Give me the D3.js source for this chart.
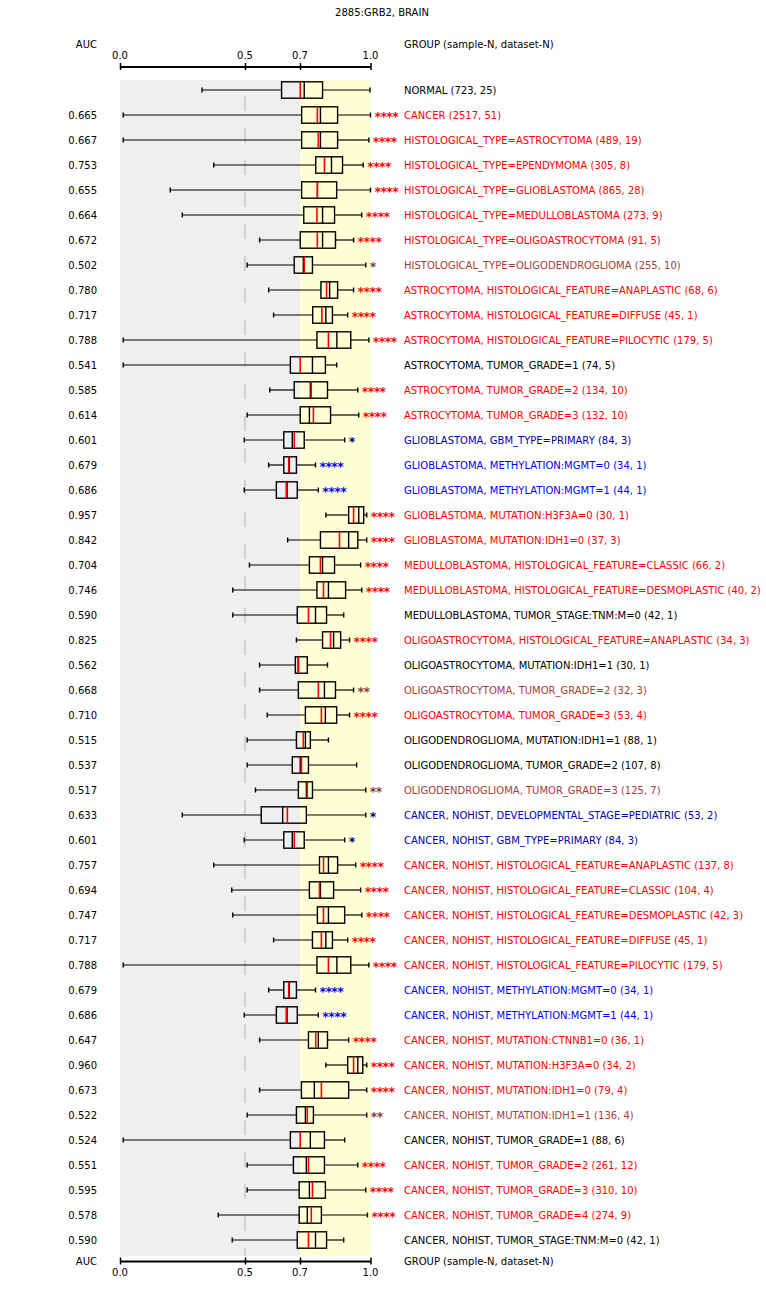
<!DOCTYPE html>
<html><head><meta charset="utf-8">
<script src="https://cdn.jsdelivr.net/npm/d3@7"></script>
<style>body{margin:0;background:#fff}svg text{font-family:"DejaVu Sans",sans-serif;font-size:10px}</style>
</head><body><div id="chart"></div>
<script>
const title = "2885:GRB2, BRAIN";
const groups = [
"NORMAL (723, 25)","CANCER (2517, 51)","HISTOLOGICAL_TYPE=ASTROCYTOMA (489, 19)","HISTOLOGICAL_TYPE=EPENDYMOMA (305, 8)",
"HISTOLOGICAL_TYPE=GLIOBLASTOMA (865, 28)","HISTOLOGICAL_TYPE=MEDULLOBLASTOMA (273, 9)","HISTOLOGICAL_TYPE=OLIGOASTROCYTOMA (91, 5)",
"HISTOLOGICAL_TYPE=OLIGODENDROGLIOMA (255, 10)","ASTROCYTOMA, HISTOLOGICAL_FEATURE=ANAPLASTIC (68, 6)","ASTROCYTOMA, HISTOLOGICAL_FEATURE=DIFFUSE (45, 1)",
"ASTROCYTOMA, HISTOLOGICAL_FEATURE=PILOCYTIC (179, 5)","ASTROCYTOMA, TUMOR_GRADE=1 (74, 5)","ASTROCYTOMA, TUMOR_GRADE=2 (134, 10)",
"ASTROCYTOMA, TUMOR_GRADE=3 (132, 10)","GLIOBLASTOMA, GBM_TYPE=PRIMARY (84, 3)","GLIOBLASTOMA, METHYLATION:MGMT=0 (34, 1)",
"GLIOBLASTOMA, METHYLATION:MGMT=1 (44, 1)","GLIOBLASTOMA, MUTATION:H3F3A=0 (30, 1)","GLIOBLASTOMA, MUTATION:IDH1=0 (37, 3)",
"MEDULLOBLASTOMA, HISTOLOGICAL_FEATURE=CLASSIC (66, 2)","MEDULLOBLASTOMA, HISTOLOGICAL_FEATURE=DESMOPLASTIC (40, 2)",
"MEDULLOBLASTOMA, TUMOR_STAGE:TNM:M=0 (42, 1)","OLIGOASTROCYTOMA, HISTOLOGICAL_FEATURE=ANAPLASTIC (34, 3)",
"OLIGOASTROCYTOMA, MUTATION:IDH1=1 (30, 1)","OLIGOASTROCYTOMA, TUMOR_GRADE=2 (32, 3)","OLIGOASTROCYTOMA, TUMOR_GRADE=3 (53, 4)",
"OLIGODENDROGLIOMA, MUTATION:IDH1=1 (88, 1)","OLIGODENDROGLIOMA, TUMOR_GRADE=2 (107, 8)","OLIGODENDROGLIOMA, TUMOR_GRADE=3 (125, 7)",
"CANCER, NOHIST, DEVELOPMENTAL_STAGE=PEDIATRIC (53, 2)","CANCER, NOHIST, GBM_TYPE=PRIMARY (84, 3)",
"CANCER, NOHIST, HISTOLOGICAL_FEATURE=ANAPLASTIC (137, 8)","CANCER, NOHIST, HISTOLOGICAL_FEATURE=CLASSIC (104, 4)",
"CANCER, NOHIST, HISTOLOGICAL_FEATURE=DESMOPLASTIC (42, 3)","CANCER, NOHIST, HISTOLOGICAL_FEATURE=DIFFUSE (45, 1)",
"CANCER, NOHIST, HISTOLOGICAL_FEATURE=PILOCYTIC (179, 5)","CANCER, NOHIST, METHYLATION:MGMT=0 (34, 1)",
"CANCER, NOHIST, METHYLATION:MGMT=1 (44, 1)","CANCER, NOHIST, MUTATION:CTNNB1=0 (36, 1)","CANCER, NOHIST, MUTATION:H3F3A=0 (34, 2)",
"CANCER, NOHIST, MUTATION:IDH1=0 (79, 4)","CANCER, NOHIST, MUTATION:IDH1=1 (136, 4)","CANCER, NOHIST, TUMOR_GRADE=1 (88, 6)",
"CANCER, NOHIST, TUMOR_GRADE=2 (261, 12)","CANCER, NOHIST, TUMOR_GRADE=3 (310, 10)","CANCER, NOHIST, TUMOR_GRADE=4 (274, 9)",
"CANCER, NOHIST, TUMOR_STAGE:TNM:M=0 (42, 1)"];
const auc = [null,0.665,0.667,0.753,0.655,0.664,0.672,0.502,0.780,0.717,0.788,0.541,0.585,0.614,0.601,0.679,0.686,0.957,0.842,0.704,
0.746,0.590,0.825,0.562,0.668,0.710,0.515,0.537,0.517,0.633,0.601,0.757,0.694,0.747,0.717,0.788,0.679,0.686,0.647,0.960,0.673,
0.522,0.524,0.551,0.595,0.578,0.590];
const whiskerLow = [0.328,0.013,0.013,0.375,0.201,0.249,0.553,0.508,0.586,0.604,0.013,0.013,0.590,0.508,0.497,0.586,0.497,0.810,0.655,
0.516,0.451,0.451,0.687,0.553,0.553,0.581,0.508,0.508,0.538,0.249,0.497,0.375,0.447,0.451,0.604,0.013,0.586,0.497,0.553,0.810,0.553,
0.508,0.013,0.508,0.508,0.393,0.449];
const q1 = [0.633,0.707,0.707,0.767,0.707,0.716,0.701,0.679,0.789,0.754,0.772,0.665,0.679,0.701,0.641,0.641,0.614,0.907,0.787,
0.740,0.772,0.690,0.796,0.683,0.694,0.723,0.687,0.672,0.694,0.559,0.641,0.783,0.740,0.774,0.753,0.772,0.641,0.614,0.736,0.903,0.706,
0.687,0.665,0.676,0.697,0.697,0.690];
const median = [0.718,0.787,0.787,0.834,0.774,0.796,0.796,0.714,0.826,0.810,0.857,0.753,0.744,0.740,0.672,0.661,0.653,0.950,0.907,
0.796,0.821,0.766,0.843,0.693,0.804,0.808,0.723,0.701,0.727,0.637,0.672,0.821,0.787,0.821,0.810,0.857,0.661,0.653,0.778,0.946,0.761,
0.723,0.744,0.727,0.740,0.731,0.766];
const mean = [0.701,0.774,0.778,0.804,0.774,0.772,0.774,0.718,0.813,0.793,0.821,0.701,0.748,0.757,0.679,0.659,0.650,0.928,0.868,
0.787,0.800,0.736,0.830,0.695,0.778,0.791,0.714,0.706,0.731,0.654,0.679,0.800,0.783,0.800,0.791,0.821,0.659,0.650,0.767,0.928,0.791,
0.731,0.701,0.736,0.753,0.748,0.736];
const q3 = [0.796,0.860,0.860,0.881,0.856,0.847,0.851,0.753,0.860,0.838,0.916,0.808,0.817,0.830,0.718,0.687,0.690,0.971,0.946,
0.847,0.894,0.813,0.873,0.731,0.851,0.856,0.744,0.736,0.753,0.727,0.718,0.860,0.843,0.890,0.838,0.916,0.687,0.690,0.817,0.967,0.907,
0.757,0.804,0.804,0.808,0.791,0.813];
const whiskerHigh = [0.998,1.0,0.993,0.969,1.0,0.963,0.928,0.980,0.928,0.903,0.993,0.856,0.946,0.950,0.890,0.766,0.778,0.984,0.984,
0.958,0.963,0.886,0.911,0.817,0.928,0.911,0.821,0.941,0.980,0.980,0.890,0.937,0.958,0.963,0.903,0.993,0.766,0.778,0.907,0.984,0.984,
0.984,0.890,0.946,0.980,0.987,0.886];
const stars = ["","****","****","****","****","****","****","*","****","****","****","","****","****","*","****","****","****","****",
"****","****","","****","","**","****","","","**","*","*","****","****","****","****","****","****","****","****","****","****","**",
"","****","****","****",""];
const direction = ["","up","up","up","up","up","up","up","up","up","up","","up","up","down","down","down","up","up","up","up","","up",
"","up","up","","","up","down","down","up","up","up","up","up","down","down","up","up","up","up","","up","up","up",""];
const tickValues = [0.0,0.5,0.7,1.0];
const tickLabels = ["0.0","0.5","0.7","1.0"];

const W = 766, H = 1305;
const svg = d3.select("#chart").append("svg").attr("width",W).attr("height",H);
const x = d3.scaleLinear().domain([0,0.5,0.7,1]).range([120,245,300,370.5]);
const y = d3.scaleBand().domain(d3.range(groups.length)).range([77.5,77.5+25*groups.length]);
const cy = i => y(i) + y.bandwidth()/2;
const bgTop = 80, bgBot = 1256;

function starColor(i){ if(!stars[i]) return "#000";
  if(direction[i]==="up") return stars[i].length>=4 ? "#ff0000" : "#804040";
  return stars[i].length>=4 ? "#0000ff" : "#000080"; }
function textColor(i){ if(!stars[i]) return "#000";
  if(direction[i]==="up") return stars[i].length>=4 ? "#ff0000" : "#a83a3a";
  return stars[i].length>=4 ? "#0000ff" : "#0000b0"; }

// backgrounds
svg.append("rect").attr("x",x(0)).attr("y",bgTop).attr("width",x(0.7)-x(0)).attr("height",bgBot-bgTop).attr("fill","#efefef");
svg.append("rect").attr("x",x(0.7)).attr("y",bgTop).attr("width",x(1)-x(0.7)+0.5).attr("height",bgBot-bgTop).attr("fill","#ffffd5");
svg.append("line").attr("x1",x(0.5)).attr("x2",x(0.5)).attr("y1",bgTop).attr("y2",bgBot)
  .attr("stroke","#c8c8c8").attr("stroke-width",1.5).attr("stroke-dasharray","15,17").attr("stroke-dashoffset",16);

// title & headers
svg.append("text").attr("x",382).attr("y",16).attr("text-anchor","middle").text(title);
function axisBlock(lineY, labelY, headY){
  const g = svg.append("g").attr("transform",`translate(0,${lineY})`);
  const ax = d3.axisTop(x).tickValues(tickValues).tickFormat((d,i)=>tickLabels[i]).tickSize(0);
  g.call(ax);
  g.select(".domain").attr("stroke","#000").attr("stroke-width",2.2);
  g.selectAll(".tick text").remove();
  g.selectAll(".tick").append("line").attr("y1",-3.5).attr("y2",3.5).attr("stroke","#000").attr("stroke-width",1.5);
  svg.selectAll(null).data(tickValues).enter().append("text").attr("x",d=>x(d)).attr("y",labelY)
    .attr("text-anchor","middle").text((d,i)=>tickLabels[i]);
  svg.append("text").attr("x",97).attr("y",headY).attr("text-anchor","end").text("AUC");
  svg.append("text").attr("x",404).attr("y",headY).text("GROUP (sample-N, dataset-N)");
}
axisBlock(66.5, 59, 48);
axisBlock(1261, 1275.5, 1265);

// rows
const rows = svg.selectAll("g.row").data(groups).enter().append("g").attr("class","row");
rows.append("line").attr("x1",(d,i)=>x(whiskerLow[i])).attr("x2",(d,i)=>x(q1[i])).attr("y1",(d,i)=>cy(i)).attr("y2",(d,i)=>cy(i))
  .attr("stroke","#000").attr("stroke-width",1.2);
rows.append("line").attr("x1",(d,i)=>x(q3[i])).attr("x2",(d,i)=>x(whiskerHigh[i])).attr("y1",(d,i)=>cy(i)).attr("y2",(d,i)=>cy(i))
  .attr("stroke","#000").attr("stroke-width",1.2);
rows.append("line").attr("x1",(d,i)=>x(whiskerLow[i])).attr("x2",(d,i)=>x(whiskerLow[i])).attr("y1",(d,i)=>cy(i)-2.5).attr("y2",(d,i)=>cy(i)+2.5)
  .attr("stroke","#000").attr("stroke-width",1.4);
rows.append("line").attr("x1",(d,i)=>x(whiskerHigh[i])).attr("x2",(d,i)=>x(whiskerHigh[i])).attr("y1",(d,i)=>cy(i)-2.5).attr("y2",(d,i)=>cy(i)+2.5)
  .attr("stroke","#000").attr("stroke-width",1.4);
rows.append("rect").attr("x",(d,i)=>x(q1[i])).attr("width",(d,i)=>x(q3[i])-x(q1[i])).attr("y",(d,i)=>cy(i)-8.2).attr("height",16.4)
  .attr("fill","none").attr("stroke","#000").attr("stroke-width",1.4);
rows.append("line").attr("x1",(d,i)=>x(median[i])).attr("x2",(d,i)=>x(median[i])).attr("y1",(d,i)=>cy(i)-8.2).attr("y2",(d,i)=>cy(i)+8.2)
  .attr("stroke","#000").attr("stroke-width",1.4);
rows.append("line").attr("x1",(d,i)=>x(mean[i])).attr("x2",(d,i)=>x(mean[i])).attr("y1",(d,i)=>cy(i)-8.2).attr("y2",(d,i)=>cy(i)+8.2)
  .attr("stroke","#ff0000").attr("stroke-width",1.6);
rows.append("text").attr("x",(d,i)=>x(whiskerHigh[i])+4).attr("y",(d,i)=>cy(i)+6.4)
  .attr("fill",(d,i)=>starColor(i)).style("font-size","12.5px").style("font-weight","bold").style("letter-spacing","-0.6px")
  .text((d,i)=>stars[i]);
rows.append("text").attr("x",97).attr("y",(d,i)=>cy(i)+3.7).attr("text-anchor","end").text((d,i)=>auc[i]==null?"":auc[i].toFixed(3));
rows.append("text").attr("x",404).attr("y",(d,i)=>cy(i)+3.7).attr("fill",(d,i)=>textColor(i)).text(d=>d);
</script></body></html>
